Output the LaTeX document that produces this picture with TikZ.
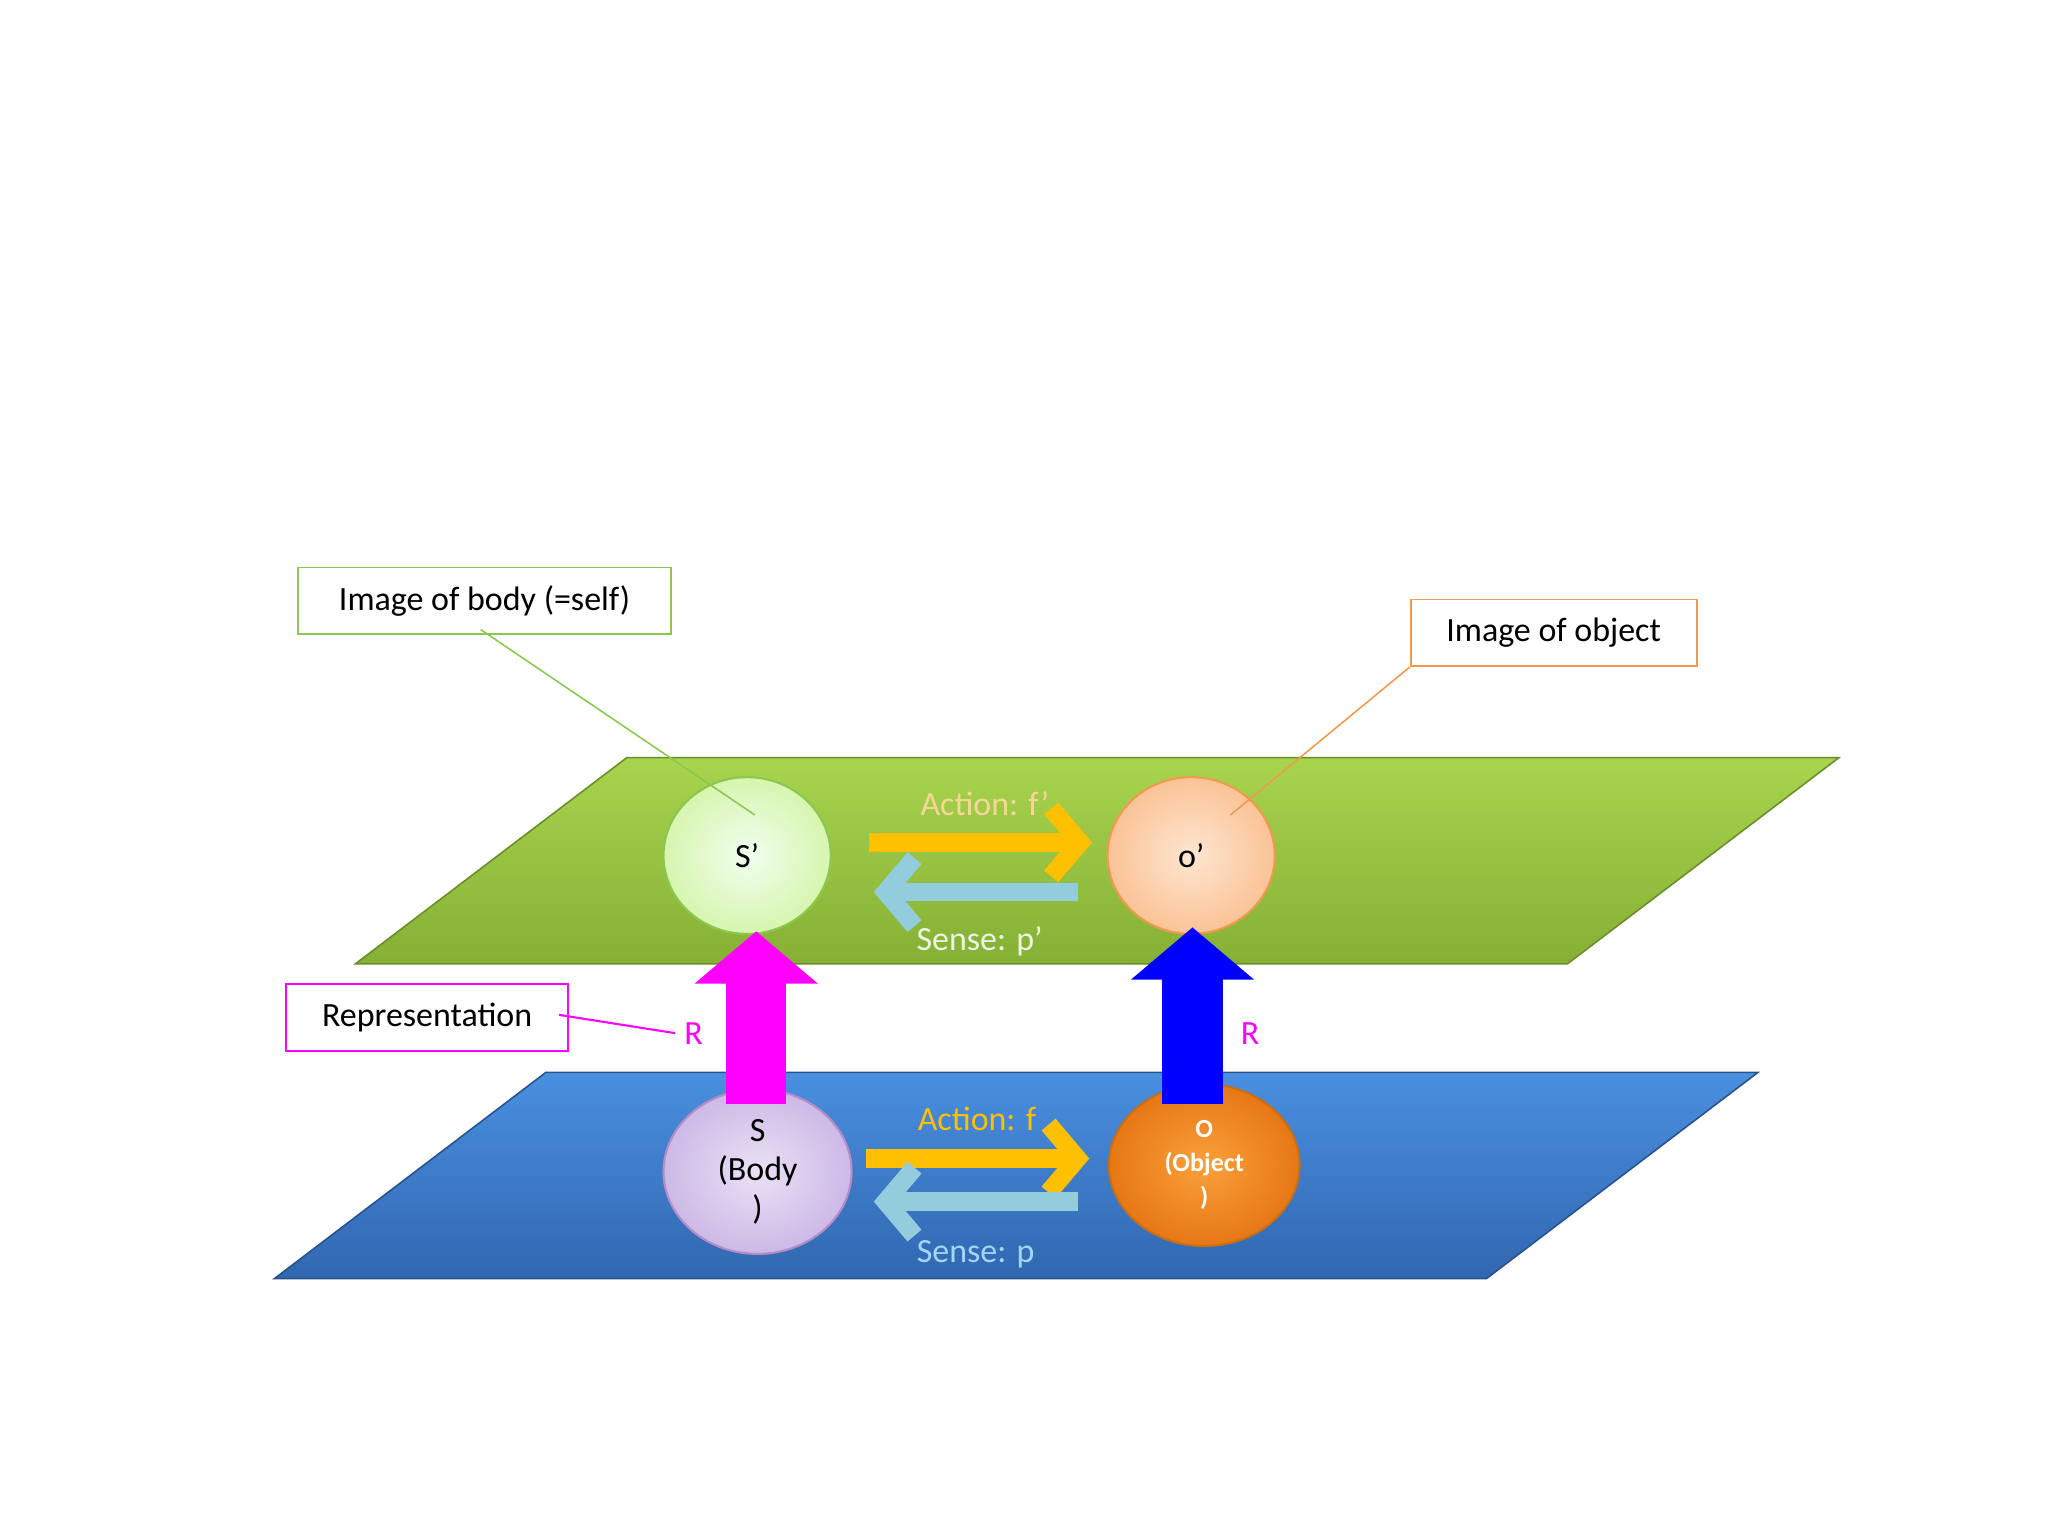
\documentclass[tikz,border=0pt]{standalone}
\usepackage{fontspec}
\setmainfont{Carlito}
\usetikzlibrary{arrows.meta,shapes.geometric}
\definecolor{gtop}{HTML}{A8D44E}
\definecolor{gbot}{HTML}{86B035}
\definecolor{btop}{HTML}{4A8FE0}
\definecolor{bbot}{HTML}{3167B0}
\definecolor{yel}{HTML}{FFC000}
\definecolor{lblue}{HTML}{93CDDD}
\definecolor{mag}{HTML}{FF00FF}
\definecolor{boxg}{HTML}{8CC850}
\definecolor{boxo}{HTML}{F09A50}
\begin{document}
\begin{tikzpicture}[x=0.5pt,y=-0.5pt,
  circ/.style={ellipse,draw,line width=0.8pt,inner sep=0pt},
  lbl/.style={font=\fontsize{13}{15}\selectfont},
  call/.style={draw,line width=0.7pt,fill=white,minimum height=25.5pt,inner xsep=7pt,font=\fontsize{13}{15}\selectfont},
  fat/.style={line width=23pt,-{Triangle[width=46pt,length=20pt]}},
  thin/.style={line width=7pt,-{Straight Barb[width=26pt,length=11pt]}}]
\useasboundingbox (0,0) rectangle (1568,1176);
% planes
\shade[top color=gtop,bottom color=gbot,draw=gbot!80!black,line width=0.6pt]
  (480,580) -- (1408,580) -- (1200,738) -- (272,738) -- cycle;
\shade[top color=btop,bottom color=bbot,draw=bbot!80!black,line width=0.6pt]
  (418,821) -- (1346,821) -- (1138,979) -- (210,979) -- cycle;
% circles
\node[circ,draw=boxg,inner color=white!70!green!20,outer color={rgb,255:red,215;green,245;blue,175},minimum width=64pt,minimum height=60pt,lbl] (sp) at (572,655) {S’};
\node[circ,draw=boxo,inner color={rgb,255:red,253;green,230;blue,210},outer color={rgb,255:red,250;green,195;blue,150},minimum width=64pt,minimum height=60pt,lbl] (op) at (912,655) {o’};
\node[circ,draw={rgb,255:red,180;green,140;blue,200},inner color={rgb,255:red,235;green,225;blue,245},outer color={rgb,255:red,205;green,185;blue,230},minimum width=72pt,minimum height=63pt,lbl,align=center] (s) at (580,897) {S\\(Body\\)};
\node[circ,draw={rgb,255:red,200;green,110;blue,20},inner color={rgb,255:red,250;green,160;blue,60},outer color={rgb,255:red,230;green,120;blue,20},minimum width=73pt,minimum height=62pt,font=\bfseries\fontsize{10}{13}\selectfont,text=white,align=center] (o) at (922,892) {O\\(Object\\)};
% fat arrows
\coordinate (m0) at (579,845); \coordinate (m1) at (579,713);
\coordinate (b0) at (913,845); \coordinate (b1) at (913,710);
\draw[fat,draw=mag,fill=mag] (m0) -- (m1);
\draw[fat,draw=blue,fill=blue] (b0) -- (b1);
% thin arrows
\coordinate (a1) at (665,645); \coordinate (a2) at (836,645);
\coordinate (a3) at (825,683); \coordinate (a4) at (669,683);
\coordinate (a5) at (663,887); \coordinate (a6) at (834,887);
\coordinate (a7) at (825,920); \coordinate (a8) at (669,920);
\draw[thin,yel] (a1) -- (a2);
\draw[thin,lblue] (a3) -- (a4);
\draw[thin,yel] (a5) -- (a6);
\draw[thin,lblue] (a7) -- (a8);
% labels
\node[lbl,text={rgb,255:red,248;green,215;blue,150}] (lf1) at (754,615) {Action: f’};
\node[lbl,text={rgb,255:red,235;green,245;blue,225}] (lp1) at (750,721) {Sense: p’};
\node[lbl,text=yel] (lf) at (748,857) {Action: f};
\node[lbl,text={rgb,255:red,160;green,215;blue,245}] (lp) at (747,960) {Sense: p};
\node[lbl,text=mag] (r1) at (531,791) {R};
\node[lbl,text=mag] (r2) at (957,791) {R};
% callouts
\coordinate (c1) at (578,624);
\coordinate (c2) at (942,624);
\node[call,draw=boxg,minimum width=143pt] (cb) at (371,460) {Image of body (=self)};
\node[call,draw=boxo,minimum width=109.5pt] (co) at (1189.5,484.5) {Image of object};
\node[call,draw=mag,minimum width=108pt] (cr) at (327,779) {Representation};
\draw[boxg,line width=0.6pt] (368,482) -- (c1);
\draw[boxo,line width=0.6pt] (co.south west) -- (c2);
\draw[mag,line width=0.8pt] (428,777) -- (r1.west);
\end{tikzpicture}
\end{document}
